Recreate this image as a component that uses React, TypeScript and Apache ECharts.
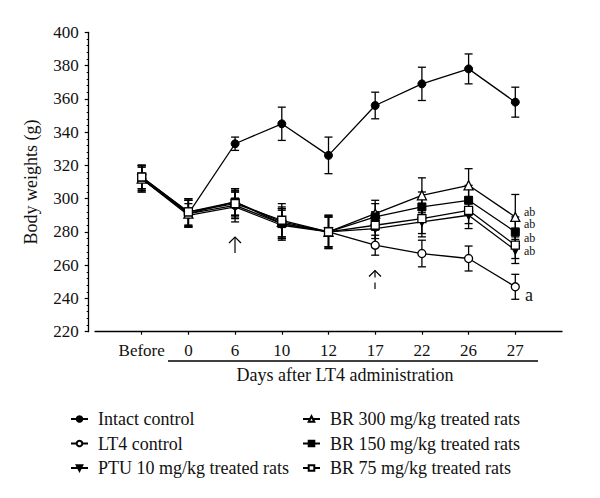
import React, { useEffect, useRef } from "react";
import * as echarts from "echarts";

const categories = ["Before", "0", "6", "10", "12", "17", "22", "26", "27"];
const intact = [312, 291, 333, 345, 326, 356, 369, 378, 358];
const intactErr = [7, 8, 4, 10, 11, 8, 10, 9, 9];
const lt4 = [312, 291, 296, 285, 280, 272, 267, 264, 247];
const lt4Err = [7, 8, 8, 9, 9, 6, 8, 7.5, 7.5];
const ptu = [312, 290, 295, 284, 280, 282, 286, 290, 269];
const ptuErr = [8, 7, 9, 9, 10, 10, 9, 8, 8];
const br300 = [312, 291, 298, 286, 280, 291, 302, 308, 289];
const br300Err = [8, 8, 8, 9, 9, 8, 10.5, 10, 13.5];
const br150 = [313, 292, 298, 285, 280, 289, 295, 299, 280];
const br150Err = [7, 8, 8, 9, 10, 8, 9, 9, 9];
const br75 = [313, 292, 297, 287, 280, 284, 288, 293, 272];
const br75Err = [7, 8, 8, 10, 9, 8, 9, 8, 8];

const yTicks = { min: 220, max: 400, step: 20 };
const FONT = "Liberation Serif";

type S = {
  name: string;
  values: number[];
  err: number[];
  symbol: string;
  rotate?: number;
  size: number;
  open: boolean;
};

const seriesDefs: S[] = [
  { name: "Intact control", values: intact, err: intactErr, symbol: "circle", size: 8, open: false },
  { name: "LT4 control", values: lt4, err: lt4Err, symbol: "circle", size: 8, open: true },
  { name: "PTU 10 mg/kg treated rats", values: ptu, err: ptuErr, symbol: "triangle", rotate: 180, size: 9, open: false },
  { name: "BR 300 mg/kg treated rats", values: br300, err: br300Err, symbol: "triangle", size: 9, open: true },
  { name: "BR 150 mg/kg treated rats", values: br150, err: br150Err, symbol: "rect", size: 8, open: false },
  { name: "BR 75 mg/kg treated rats", values: br75, err: br75Err, symbol: "rect", size: 8, open: true },
];

export default function App() {
  const ref = useRef<HTMLDivElement>(null);
  useEffect(() => {
    if (!ref.current) return;
    const chart = echarts.init(ref.current, null, { renderer: "svg" });
    const idx = categories.map((_, i) => i);

    const errorSeries = seriesDefs.map((s) => ({
      type: "custom",
      name: s.name + " err",
      z: 1,
      silent: true,
      encode: { x: 0, y: [1, 2] },
      data: s.values.map((v, i) => [i, v - s.err[i], v + s.err[i]]),
      renderItem: (params: any, api: any) => {
        const x = api.value(0);
        const lo = api.coord([x, api.value(1)]);
        const hi = api.coord([x, api.value(2)]);
        const w = 4;
        const st = { stroke: "#000", lineWidth: 1.3 };
        return {
          type: "group",
          children: [
            { type: "line", shape: { x1: lo[0], y1: lo[1], x2: hi[0], y2: hi[1] }, style: st },
            { type: "line", shape: { x1: lo[0] - w, y1: lo[1], x2: lo[0] + w, y2: lo[1] }, style: st },
            { type: "line", shape: { x1: hi[0] - w, y1: hi[1], x2: hi[0] + w, y2: hi[1] }, style: st },
          ],
        };
      },
    }));

    const lineSeries = seriesDefs.map((s, k) => ({
      type: "line",
      name: s.name,
      z: 3 + k,
      data: s.values.map((v, i) => [i, v]),
      symbol: s.symbol,
      symbolSize: s.size,
      symbolRotate: s.rotate || 0,
      showAllSymbol: true,
      lineStyle: { color: "#000", width: 1.3 },
      itemStyle: s.open
        ? { color: "#fff", borderColor: "#000", borderWidth: 1.3 }
        : { color: "#000", borderColor: "#000", borderWidth: 1 },
    }));

    const legendText = { fontFamily: FONT, fontSize: 18, color: "#111", lineHeight: 18, padding: [0, 0, 0, 5] };

    const arrowStyle = { stroke: "#000", lineWidth: 1.2, fill: "none" };

    chart.setOption({
      animation: false,
      backgroundColor: "#fff",
      grid: { left: 95, right: 38, top: 32.3, bottom: 166.3, containLabel: false },
      xAxis: {
        type: "value",
        min: -1,
        max: 9,
        interval: 1,
        axisLine: { onZero: false, lineStyle: { color: "#000", width: 1.3 } },
        axisTick: { customValues: idx, length: 3, lineStyle: { color: "#000", width: 1.2 } },
        axisLabel: {
          customValues: idx,
          formatter: (v: number) => categories[Math.round(v)] ?? "",
          fontFamily: FONT,
          fontSize: 17,
          color: "#111",
          margin: 10,
        },
        splitLine: { show: false },
      },
      yAxis: {
        type: "value",
        min: yTicks.min,
        max: yTicks.max,
        interval: yTicks.step,
        offset: 6.3,
        name: "Body weights (g)",
        nameLocation: "middle",
        nameGap: 49,
        nameTextStyle: { fontFamily: FONT, fontSize: 18, color: "#111" },
        axisLine: { show: true, onZero: false, lineStyle: { color: "#000", width: 1.3 } },
        axisTick: { show: true, length: 4, lineStyle: { color: "#000", width: 1.2 } },
        minorTick: { show: true, splitNumber: 5, length: 2, lineStyle: { color: "#000", width: 1 } },
        axisLabel: { fontFamily: FONT, fontSize: 17, color: "#111", margin: 10 },
        splitLine: { show: false },
      },
      legend: [
        {
          data: seriesDefs.slice(0, 3).map((s) => s.name),
          orient: "vertical",
          left: 65,
          top: 405,
          itemWidth: 17,
          itemHeight: 7,
          itemGap: 6.5,
          textStyle: legendText,
          selectedMode: false,
        },
        {
          data: seriesDefs.slice(3).map((s) => s.name),
          orient: "vertical",
          left: 297,
          top: 405,
          itemWidth: 17,
          itemHeight: 7,
          itemGap: 6.5,
          textStyle: legendText,
          selectedMode: false,
        },
      ],
      graphic: [
        { type: "line", shape: { x1: 168, y1: 361, x2: 538, y2: 361 }, style: { stroke: "#000", lineWidth: 1.3 } },
        {
          type: "text",
          x: 345,
          y: 375,
          style: { text: "Days after LT4 administration", font: `18px "${FONT}"`, fill: "#111", align: "center", verticalAlign: "middle" },
        },
        // solid arrow at day 6
        { type: "line", shape: { x1: 235, y1: 237, x2: 235, y2: 253 }, style: arrowStyle },
        { type: "polyline", shape: { points: [[229, 243], [235, 237], [241, 243]] }, style: arrowStyle },
        // broken arrow at day 17
        { type: "line", shape: { x1: 375, y1: 270.5, x2: 375, y2: 277.5 }, style: arrowStyle },
        { type: "polyline", shape: { points: [[369, 276.5], [375, 270.5], [381, 276.5]] }, style: arrowStyle },
        { type: "line", shape: { x1: 375, y1: 282.5, x2: 375, y2: 289 }, style: arrowStyle },
        // significance letters
        ...[211.7, 224.3, 237.7, 250.7].map((y) => ({
          type: "text",
          x: 524,
          y,
          style: { text: "ab", fontFamily: FONT, fontSize: 12, lineHeight: 12, fill: "#111", align: "left", verticalAlign: "middle" },
        })),
        {
          type: "text",
          x: 525,
          y: 295,
          style: { text: "a", fontFamily: FONT, fontSize: 18, fill: "#111", align: "left", verticalAlign: "middle" },
        },
      ],
      series: [...errorSeries, ...lineSeries],
    });
    return () => chart.dispose();
  }, []);
  return <div ref={ref} style={{ position: "fixed", left: 0, top: 0, width: 600, height: 498 }} />;
}
